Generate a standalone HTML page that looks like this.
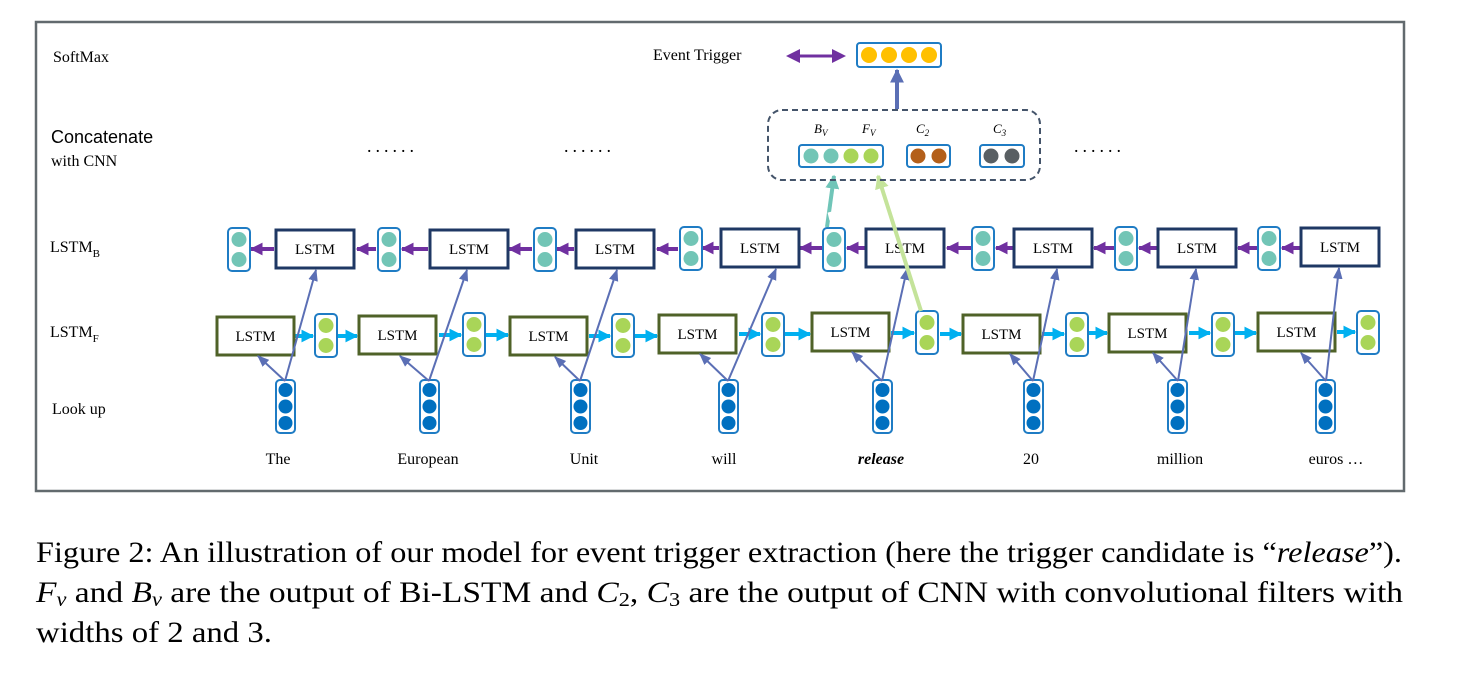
<!DOCTYPE html>
<html><head><meta charset="utf-8"><style>
html,body{margin:0;padding:0;background:#fff;}
svg{display:block;}
text{font-family:"Liberation Serif",serif;}
</style></head><body>
<svg width="1475" height="675" viewBox="0 0 1475 675" xmlns="http://www.w3.org/2000/svg">
<defs>
<marker id="mb" viewBox="0 0 10 10" refX="9" refY="5" markerWidth="3.2" markerHeight="3.2" orient="auto"><path d="M0,0L10,5L0,10z" fill="#00b0f0"/></marker>
<marker id="mp" viewBox="0 0 10 10" refX="9" refY="5" markerWidth="3.2" markerHeight="3.2" orient="auto"><path d="M0,0L10,5L0,10z" fill="#7030a0"/></marker>
<marker id="ms" viewBox="0 0 10 10" refX="9" refY="5" markerWidth="6" markerHeight="6" orient="auto"><path d="M0,1L10,5L0,9z" fill="#5b6fb5"/></marker>
<marker id="mS" viewBox="0 0 10 10" refX="9" refY="5" markerWidth="3.5" markerHeight="3.5" orient="auto"><path d="M0,0L10,5L0,10z" fill="#5b6fb5"/></marker>
<marker id="mt" viewBox="0 0 10 10" refX="9" refY="5" markerWidth="3.5" markerHeight="3.5" orient="auto"><path d="M0,0L10,5L0,10z" fill="#70c5b8"/></marker>
<marker id="mg" viewBox="0 0 10 10" refX="9" refY="5" markerWidth="3.5" markerHeight="3.5" orient="auto"><path d="M0,0L10,5L0,10z" fill="#c4e39a"/></marker>
<g id="vf"><rect x="0" y="0" width="22" height="43" rx="4" fill="#fff" stroke="#1f7cc4" stroke-width="2"/><circle cx="11" cy="11.5" r="7.5" fill="#a9d558"/><circle cx="11" cy="31.5" r="7.5" fill="#a9d558"/></g>
<g id="vb"><rect x="0" y="0" width="22" height="43" rx="4" fill="#fff" stroke="#1f7cc4" stroke-width="2"/><circle cx="11" cy="11.5" r="7.5" fill="#72c5b6"/><circle cx="11" cy="31.5" r="7.5" fill="#72c5b6"/></g>
<g id="vl"><rect x="0" y="0" width="19" height="53" rx="4" fill="#fff" stroke="#1f7cc4" stroke-width="2"/><circle cx="9.5" cy="10" r="7" fill="#0070c0"/><circle cx="9.5" cy="26.5" r="7" fill="#0070c0"/><circle cx="9.5" cy="43" r="7" fill="#0070c0"/></g>
<g id="bf"><rect x="0" y="0" width="77" height="38" fill="#fff" stroke="#4f6228" stroke-width="3"/><text x="38.5" y="24" font-size="15" text-anchor="middle">LSTM</text></g>
<g id="bb"><rect x="0" y="0" width="78" height="38" fill="#fff" stroke="#1f3864" stroke-width="3"/><text x="39" y="24" font-size="15" text-anchor="middle">LSTM</text></g>
</defs>

<rect x="36" y="22" width="1368" height="469" fill="#fff" stroke="#626a6e" stroke-width="2.5"/>

<text x="53" y="62" font-size="16">SoftMax</text>
<text x="51" y="143" font-size="18" style="font-family:'Liberation Sans',sans-serif">Concatenate</text>
<text x="51" y="166" font-size="16">with CNN</text>
<text x="50" y="252" font-size="16">LSTM<tspan font-size="11" dy="5">B</tspan></text>
<text x="50" y="337" font-size="16">LSTM<tspan font-size="11" dy="5">F</tspan></text>
<text x="52" y="414" font-size="16">Look up</text>

<text x="367" y="152" font-size="18" letter-spacing="4">......</text>
<text x="564" y="152" font-size="18" letter-spacing="4">......</text>
<text x="1074" y="152" font-size="18" letter-spacing="4">......</text>

<g font-size="16" text-anchor="middle">
<text x="278" y="464">The</text><text x="428" y="464">European</text><text x="584" y="464">Unit</text><text x="724" y="464">will</text>
<text x="881" y="464" font-style="italic" font-weight="bold">release</text><text x="1031" y="464">20</text><text x="1180" y="464">million</text><text x="1336" y="464">euros …</text>
</g>

<g stroke="#00b0f0" stroke-width="4" marker-end="url(#mb)">
<line x1="294" y1="336" x2="313" y2="336"/><line x1="337" y1="336" x2="357" y2="336"/>
<line x1="439" y1="335" x2="461" y2="335"/><line x1="485" y1="335" x2="508" y2="335"/>
<line x1="589" y1="336" x2="610" y2="336"/><line x1="634" y1="336" x2="657" y2="336"/>
<line x1="739" y1="334" x2="760" y2="334"/><line x1="784" y1="334" x2="810" y2="334"/>
<line x1="891" y1="333" x2="914" y2="333"/><line x1="940" y1="334" x2="961" y2="334"/>
<line x1="1042" y1="334" x2="1064" y2="334"/><line x1="1088" y1="333" x2="1107" y2="333"/>
<line x1="1189" y1="333" x2="1210" y2="333"/><line x1="1234" y1="333" x2="1256" y2="333"/>
<line x1="1337" y1="332" x2="1355" y2="332"/>
</g>
<g stroke="#7030a0" stroke-width="4" marker-end="url(#mp)">
<line x1="274" y1="249" x2="251" y2="249"/><line x1="376" y1="249" x2="357" y2="249"/>
<line x1="428" y1="249" x2="402" y2="249"/><line x1="532" y1="249" x2="509" y2="249"/>
<line x1="574" y1="249" x2="557" y2="249"/><line x1="678" y1="249" x2="657" y2="249"/>
<line x1="719" y1="248" x2="702" y2="248"/><line x1="822" y1="248" x2="800" y2="248"/>
<line x1="865" y1="248" x2="847" y2="248"/><line x1="971" y1="248" x2="947" y2="248"/>
<line x1="1013" y1="248" x2="996" y2="248"/><line x1="1114" y1="248" x2="1094" y2="248"/>
<line x1="1157" y1="248" x2="1139" y2="248"/><line x1="1257" y1="248" x2="1238" y2="248"/>
<line x1="1300" y1="248" x2="1282" y2="248"/>
</g>

<use href="#bf" x="217" y="317"/><use href="#bf" x="359" y="316"/><use href="#bf" x="510" y="317"/><use href="#bf" x="659" y="315"/>
<use href="#bf" x="812" y="313"/><use href="#bf" x="963" y="315"/><use href="#bf" x="1109" y="314"/><use href="#bf" x="1258" y="313"/>
<use href="#bb" x="276" y="230"/><use href="#bb" x="430" y="230"/><use href="#bb" x="576" y="230"/><use href="#bb" x="721" y="229"/>
<use href="#bb" x="866" y="229"/><use href="#bb" x="1014" y="229"/><use href="#bb" x="1158" y="229"/><use href="#bb" x="1301" y="228"/>

<use href="#vf" x="315" y="314"/><use href="#vf" x="463" y="313"/><use href="#vf" x="612" y="314"/><use href="#vf" x="762" y="313"/>
<use href="#vf" x="916" y="311"/><use href="#vf" x="1066" y="313"/><use href="#vf" x="1212" y="313"/><use href="#vf" x="1357" y="311"/>
<use href="#vb" x="228" y="228"/><use href="#vb" x="378" y="228"/><use href="#vb" x="534" y="228"/><use href="#vb" x="680" y="227"/>
<use href="#vb" x="823" y="228"/><use href="#vb" x="972" y="227"/><use href="#vb" x="1115" y="227"/><use href="#vb" x="1258" y="227"/>
<use href="#vl" x="276" y="380"/><use href="#vl" x="420" y="380"/><use href="#vl" x="571" y="380"/><use href="#vl" x="719" y="380"/>
<use href="#vl" x="873" y="380"/><use href="#vl" x="1024" y="380"/><use href="#vl" x="1168" y="380"/><use href="#vl" x="1316" y="380"/>

<g stroke="#5b6fb5" stroke-width="2" fill="none" marker-end="url(#ms)">
<path d="M285,381L258,356"/><path d="M285,381L316,270"/>
<path d="M429,381L400,356"/><path d="M429,381L467,270"/>
<path d="M580,381L555,357"/><path d="M580,381L617,270"/>
<path d="M728,381L700,354"/><path d="M728,381L776,269"/>
<path d="M882,381L852,352"/><path d="M882,381L907,269"/>
<path d="M1033,381L1010,354"/><path d="M1033,381L1057,269"/>
<path d="M1178,381L1153,353"/><path d="M1178,381L1196,269"/>
<path d="M1326,381L1301,353"/><path d="M1326,381L1339,268"/>
</g>

<line x1="827" y1="227" x2="834" y2="176" stroke="#70c5b8" stroke-width="4" marker-end="url(#mt)"/>
<line x1="832" y1="220" x2="830" y2="212" stroke="#fff" stroke-width="5"/>
<line x1="921" y1="311" x2="878" y2="176" stroke="#c4e39a" stroke-width="4" marker-end="url(#mg)"/>

<rect x="768" y="110" width="272" height="70" rx="14" fill="none" stroke="#44546a" stroke-width="2" stroke-dasharray="6,4"/>
<g font-size="13" font-style="italic">
<text x="814" y="133">B<tspan font-size="9" dy="3">V</tspan></text>
<text x="862" y="133">F<tspan font-size="9" dy="3">V</tspan></text>
<text x="916" y="133">C<tspan font-size="9" dy="3">2</tspan></text>
<text x="993" y="133">C<tspan font-size="9" dy="3">3</tspan></text>
</g>
<rect x="799" y="145" width="84" height="22" rx="3" fill="#fff" stroke="#1f7cc4" stroke-width="2"/>
<circle cx="811" cy="156" r="7.5" fill="#72c5b6"/><circle cx="831" cy="156" r="7.5" fill="#72c5b6"/><circle cx="851" cy="156" r="7.5" fill="#a9d558"/><circle cx="871" cy="156" r="7.5" fill="#a9d558"/>
<rect x="907" y="145" width="43" height="22" rx="3" fill="#fff" stroke="#1f7cc4" stroke-width="2"/>
<circle cx="918" cy="156" r="7.5" fill="#b35f1a"/><circle cx="939" cy="156" r="7.5" fill="#b35f1a"/>
<rect x="980" y="145" width="44" height="22" rx="3" fill="#fff" stroke="#1f7cc4" stroke-width="2"/>
<circle cx="991" cy="156" r="7.5" fill="#595f63"/><circle cx="1012" cy="156" r="7.5" fill="#595f63"/>

<line x1="897" y1="109" x2="897" y2="70" stroke="#5b6fb5" stroke-width="4" marker-end="url(#mS)"/>
<rect x="857" y="43" width="84" height="24" rx="3" fill="#fff" stroke="#1f7cc4" stroke-width="2"/>
<circle cx="869" cy="55" r="8" fill="#ffc000"/><circle cx="889" cy="55" r="8" fill="#ffc000"/><circle cx="909" cy="55" r="8" fill="#ffc000"/><circle cx="929" cy="55" r="8" fill="#ffc000"/>
<text x="653" y="60" font-size="16">Event Trigger</text>
<line x1="796" y1="56" x2="836" y2="56" stroke="#7030a0" stroke-width="3"/>
<path d="M786,56L800,49L800,63z M846,56L832,49L832,63z" fill="#7030a0"/>

<g font-size="30">
<text x="36" y="562" textLength="1366" lengthAdjust="spacingAndGlyphs">Figure 2: An illustration of our model for event trigger extraction (here the trigger candidate is “<tspan font-style="italic">release</tspan>”).</text>
<text x="36" y="602" textLength="1367" lengthAdjust="spacingAndGlyphs"><tspan font-style="italic">F</tspan><tspan font-style="italic" font-size="20" dy="4">v</tspan><tspan dy="-4"> and </tspan><tspan font-style="italic">B</tspan><tspan font-style="italic" font-size="20" dy="4">v</tspan><tspan dy="-4"> are the output of Bi-LSTM and </tspan><tspan font-style="italic">C</tspan><tspan font-size="20" dy="4">2</tspan><tspan dy="-4">, </tspan><tspan font-style="italic">C</tspan><tspan font-size="20" dy="4">3</tspan><tspan dy="-4"> are the output of CNN with convolutional filters with</tspan></text>
<text x="36" y="642" textLength="236" lengthAdjust="spacingAndGlyphs">widths of 2 and 3.</text>
</g>
</svg>
</body></html>
